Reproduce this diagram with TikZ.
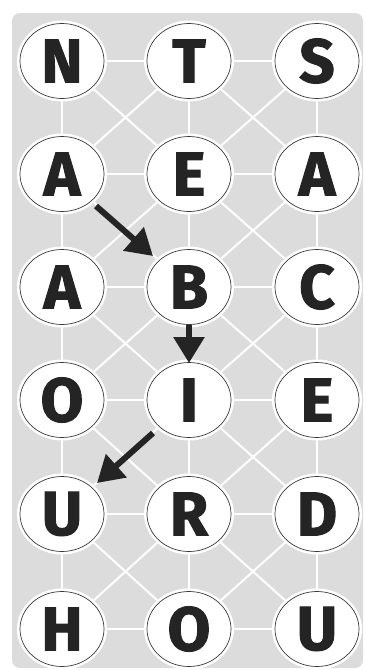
\documentclass[tikz,border=0pt]{standalone}
\usepackage{fontspec}
\setmainfont{Fira Sans}
\newfontfamily\heavy[BoldFeatures={FakeBold=1.6}]{Fira Sans}
\usetikzlibrary{arrows.meta,shapes.geometric}
\definecolor{panel}{HTML}{DCDCDC}
\definecolor{ink}{HTML}{242424}
\definecolor{rim}{HTML}{3A3A3A}
\tikzset{
  ellipse box/.style={draw=rim, line width=0.7pt, fill=white, shape=ellipse,
    minimum width=84pt, minimum height=75pt, inner sep=0pt,
    font=\heavy\fontsize{62}{62}\selectfont\bfseries, text=ink},
  link/.style={white, line width=2pt},
  halo/.style={fill=white, shape=ellipse, minimum width=90pt, minimum height=81pt, inner sep=0pt},
  movearrow/.style={ink, line width=6pt, -{Triangle[length=26pt,width=30pt]}}
}
\begin{document}
\begin{tikzpicture}[x=1pt,y=-1pt]
\useasboundingbox (0,0) rectangle (365,670);
\fill[panel, rounded corners=8pt] (12,13) rectangle (363,668);
% grid positions
\def\colA{62}\def\colB{189}\def\colC{317}
\foreach \r/\y in {1/61,2/174,3/287,4/400,5/514,6/629}{
  \coordinate (p\r1) at (\colA,\y);
  \coordinate (p\r2) at (\colB,\y);
  \coordinate (p\r3) at (\colC,\y);
}
% links
\foreach \r in {1,...,6}{
  \draw[link] (p\r1) -- (p\r2);
  \draw[link] (p\r2) -- (p\r3);
}
\foreach \r/\s in {1/2,2/3,3/4,4/5,5/6}{
  \foreach \c in {1,2,3}{ \draw[link] (p\r\c) -- (p\s\c); }
  \draw[link] (p\r1) -- (p\s2);
  \draw[link] (p\r2) -- (p\s1);
  \draw[link] (p\r2) -- (p\s3);
  \draw[link] (p\r3) -- (p\s2);
}
% halos and cells
\foreach \r/\a/\b/\c in {1/N/T/S,2/A/E/A,3/A/B/C,4/O/I/E,5/U/R/D,6/H/O/U}{
  \node[halo] at (p\r1) {};
  \node[halo] at (p\r2) {};
  \node[halo] at (p\r3) {};
  \node[ellipse box] (n\r1) at (p\r1) {\a};
  \node[ellipse box] (n\r2) at (p\r2) {\b};
  \node[ellipse box] (n\r3) at (p\r3) {\c};
}
% arrows
\coordinate (a1s) at (96,206);
\coordinate (a1e) at (153,256);
\coordinate (a2s) at (189,325);
\coordinate (a2e) at (189,363);
\coordinate (a3s) at (153,433);
\coordinate (a3e) at (97,483);
\draw[movearrow] (a1s) -- (a1e);
\draw[movearrow] (a2s) -- (a2e);
\draw[movearrow] (a3s) -- (a3e);
\end{tikzpicture}
\end{document}
